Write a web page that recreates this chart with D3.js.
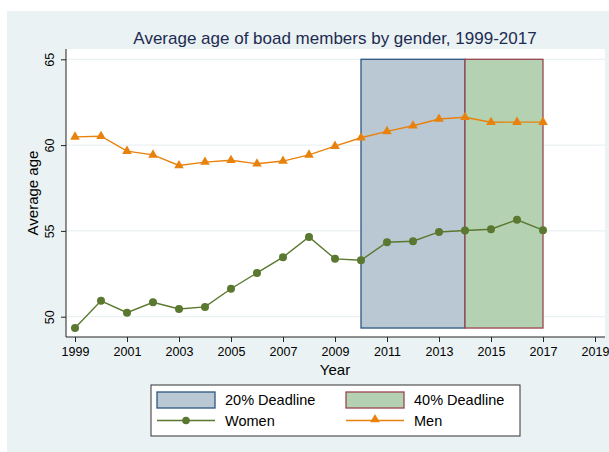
<!DOCTYPE html>
<html lang="en">
<head>
<meta charset="utf-8">
<title>Average age of board members</title>
<script src="https://cdn.jsdelivr.net/npm/d3@7"></script>
<style>
  body { margin: 0; background: #fff; font-family: "Liberation Sans", Arial, sans-serif; }
  svg { display: block; }
</style>
</head>
<body>
<div id="vis"></div>
<script>
// data
const years = [1999, 2000, 2001, 2002, 2003, 2004, 2005, 2006, 2007, 2008, 2009,
               2010, 2011, 2012, 2013, 2014, 2015, 2016, 2017];
const women = [49.34, 50.93, 50.23, 50.84, 50.45, 50.57, 51.63, 52.55, 53.47, 54.65, 53.37,
               53.29, 54.34, 54.40, 54.94, 55.02, 55.10, 55.65, 55.04];
const men = [60.48, 60.52, 59.65, 59.43, 58.81, 59.01, 59.12, 58.91, 59.07, 59.43, 59.94,
             60.43, 60.80, 61.13, 61.52, 61.62, 61.33, 61.34, 61.34];
const deadlines = [
  { label: "20% Deadline", from: 2010, to: 2014, fill: "#bac8d3", stroke: "#2b5683" },
  { label: "40% Deadline", from: 2014, to: 2017, fill: "#b4d1b2", stroke: "#9a4452" }
];
const xTicks = [1999, 2001, 2003, 2005, 2007, 2009, 2011, 2013, 2015, 2017, 2019];
const yTicks = [50, 55, 60, 65];

const width = 609, height = 452;
const plot = { left: 66, right: 605, top: 49, bottom: 337 };
const green = "#5a782f", orange = "#e8820c";

const svg = d3.select("#vis").append("svg")
  .attr("width", width).attr("height", height);

// outer graph region
svg.append("rect").attr("x", 7).attr("y", 11)
  .attr("width", width - 7).attr("height", height - 11)
  .attr("fill", "#eaf2f3");

svg.append("rect").attr("x", plot.left).attr("y", plot.top)
  .attr("width", plot.right - plot.left).attr("height", plot.bottom - plot.top)
  .attr("fill", "#fff");

const x = d3.scaleLinear().domain([1999, 2019]).range([75, 595]);
const y = d3.scaleLinear().domain([50, 65]).range([316.7, 59.3]);

// gridlines
svg.append("g").selectAll("line").data(yTicks).join("line")
  .attr("x1", plot.left).attr("x2", plot.right)
  .attr("y1", d => y(d)).attr("y2", d => y(d))
  .attr("stroke", "#eaf2f3").attr("stroke-width", 1.2);

// deadline rectangles
const yMin = d3.min(women);
svg.append("g").selectAll("rect").data(deadlines).join("rect")
  .attr("x", d => x(d.from)).attr("width", d => x(d.to) - x(d.from))
  .attr("y", y(65)).attr("height", y(yMin) - y(65))
  .attr("fill", d => d.fill).attr("stroke", d => d.stroke).attr("stroke-width", 1.3);

// lines
const line = d3.line().x((d, i) => x(years[i])).y(d => y(d));
svg.append("path").datum(women).attr("d", line)
  .attr("fill", "none").attr("stroke", green).attr("stroke-width", 1.4);
svg.append("path").datum(men).attr("d", line)
  .attr("fill", "none").attr("stroke", orange).attr("stroke-width", 1.4);

svg.append("g").selectAll("circle").data(women).join("circle")
  .attr("cx", (d, i) => x(years[i])).attr("cy", d => y(d))
  .attr("r", 4).attr("fill", green);

const tri = d3.symbol().type(d3.symbolTriangle).size(40);
svg.append("g").selectAll("path").data(men).join("path")
  .attr("d", tri)
  .attr("transform", (d, i) => `translate(${x(years[i])},${y(d)})`)
  .attr("fill", orange);

// axes
const xAxis = svg.append("g")
  .attr("transform", `translate(0,${plot.bottom})`)
  .call(d3.axisBottom(x).tickValues(xTicks).tickFormat(d3.format("d")).tickSize(5).tickSizeOuter(0));
xAxis.select(".domain").attr("d", `M${plot.left},0H${plot.right}`);

const yAxis = svg.append("g")
  .attr("transform", `translate(${plot.left},0)`)
  .call(d3.axisLeft(y).tickValues(yTicks).tickSize(5).tickSizeOuter(0));
yAxis.select(".domain").attr("d", `M0,${plot.top}V${plot.bottom}`);
yAxis.selectAll(".tick text")
  .attr("x", null).attr("dy", null)
  .attr("transform", "translate(-12,0) rotate(-90)")
  .attr("text-anchor", "middle");

svg.selectAll(".domain, .tick line").attr("stroke", "#222");
svg.selectAll(".tick text")
  .attr("fill", "#000").attr("font-size", 12.5)
  .attr("font-family", "'Liberation Sans', Arial, sans-serif");
xAxis.selectAll(".tick text").attr("dy", null).attr("y", 19);

// titles
svg.append("text").attr("x", 335).attr("y", 44).attr("text-anchor", "middle")
  .attr("font-size", 17).attr("fill", "#1e2b52")
  .text("Average age of boad members by gender, 1999-2017");
svg.append("text").attr("x", 335).attr("y", 375).attr("text-anchor", "middle")
  .attr("font-size", 15).attr("fill", "#000").text("Year");
svg.append("text")
  .attr("transform", "translate(38,193) rotate(-90)")
  .attr("text-anchor", "middle").attr("font-size", 15).attr("fill", "#000")
  .text("Average age");

// legend
const lg = svg.append("g");
lg.append("rect").attr("x", 151).attr("y", 385).attr("width", 369).attr("height", 51)
  .attr("fill", "#fff").attr("stroke", "#333").attr("stroke-width", 1);

const colX = [157, 346];
deadlines.forEach((d, i) => {
  lg.append("rect").attr("x", colX[i]).attr("y", 392).attr("width", 58).attr("height", 16)
    .attr("fill", d.fill).attr("stroke", d.stroke).attr("stroke-width", 1.3);
  lg.append("text").attr("x", colX[i] + 68).attr("y", 405)
    .attr("font-size", 14.5).attr("fill", "#000").text(d.label);
});
const series = [{ label: "Women", color: green, mark: "circle" }, { label: "Men", color: orange, mark: "tri" }];
series.forEach((s, i) => {
  const cx = colX[i];
  lg.append("line").attr("x1", cx).attr("x2", cx + 58).attr("y1", 420.5).attr("y2", 420.5)
    .attr("stroke", s.color).attr("stroke-width", 1.4);
  if (s.mark === "circle") {
    lg.append("circle").attr("cx", cx + 29).attr("cy", 420.5).attr("r", 3.8).attr("fill", s.color);
  } else {
    lg.append("path").attr("d", tri).attr("transform", `translate(${cx + 29},419.5)`).attr("fill", s.color);
  }
  lg.append("text").attr("x", cx + 68).attr("y", 426)
    .attr("font-size", 14.5).attr("fill", "#000").text(s.label);
});
</script>
</body>
</html>
